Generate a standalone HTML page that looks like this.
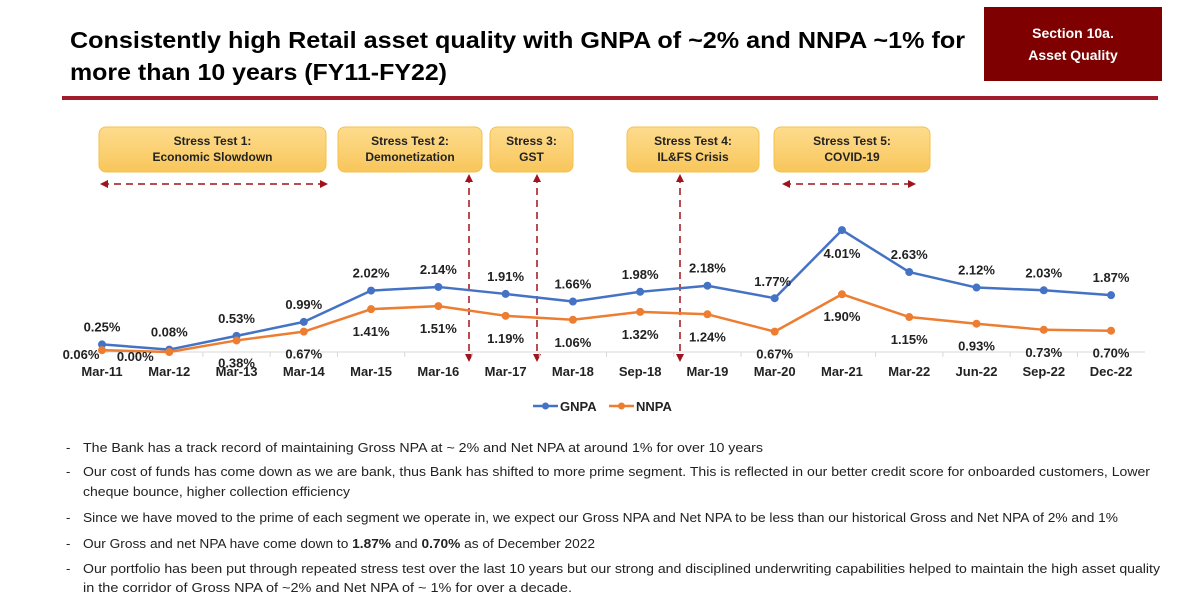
<!DOCTYPE html>
<html><head><meta charset="utf-8"><style>
html,body{margin:0;padding:0;background:#fff;}
svg{display:block;font-family:"Liberation Sans",sans-serif;}
</style></head><body>
<svg id="s" width="1200" height="613" viewBox="0 0 1200 613" xmlns="http://www.w3.org/2000/svg">
<defs>
<linearGradient id="box" x1="0" y1="0" x2="0" y2="1"><stop offset="0" stop-color="#fddc8e"/><stop offset="1" stop-color="#f8c65a"/></linearGradient>
<marker id="ah" markerWidth="8" markerHeight="8" refX="6" refY="4" orient="auto-start-reverse" markerUnits="userSpaceOnUse"><path d="M0,0 L8,4 L0,8 z" fill="#a1121c"/></marker>
</defs>
<text x="70" y="48" font-size="23" font-weight="bold" fill="#000" textLength="895" lengthAdjust="spacingAndGlyphs">Consistently high Retail asset quality with GNPA of ~2% and NNPA ~1% for</text>
<text x="70" y="80" font-size="23" font-weight="bold" fill="#000" textLength="377" lengthAdjust="spacingAndGlyphs">more than 10 years (FY11-FY22)</text>
<rect x="62" y="96" width="1096" height="4" fill="#a31c2b"/>
<rect x="984" y="7" width="178" height="74" fill="#7f0000"/>
<text x="1073" y="38" font-size="14" font-weight="bold" fill="#fff" text-anchor="middle">Section 10a.</text>
<text x="1073" y="60" font-size="14" font-weight="bold" fill="#fff" text-anchor="middle">Asset Quality</text>
<g id="chart"></g>
<g font-size="13" fill="#222">
<text x="66" y="452">-</text><text x="83" y="452" textLength="680" lengthAdjust="spacingAndGlyphs">The Bank has a track record of maintaining Gross NPA at ~ 2% and Net NPA at around 1% for over 10 years</text>
<text x="66" y="476">-</text><text x="83" y="476" textLength="1067" lengthAdjust="spacingAndGlyphs">Our cost of funds has come down as we are bank, thus Bank has shifted to more prime segment. This is reflected in our better credit score for onboarded customers, Lower</text>
<text x="83" y="496" textLength="267" lengthAdjust="spacingAndGlyphs">cheque bounce, higher collection efficiency</text>
<text x="66" y="522">-</text><text x="83" y="522" textLength="1035" lengthAdjust="spacingAndGlyphs">Since we have moved to the prime of each segment we operate in, we expect our Gross NPA and Net NPA to be less than our historical Gross and Net NPA of 2% and 1%</text>
<text x="66" y="548">-</text><text x="83" y="548" textLength="512" lengthAdjust="spacingAndGlyphs">Our Gross and net NPA have come down to <tspan font-weight="bold">1.87%</tspan> and <tspan font-weight="bold">0.70%</tspan> as of December 2022</text>
<text x="66" y="573">-</text><text x="83" y="573" textLength="1077" lengthAdjust="spacingAndGlyphs">Our portfolio has been put through repeated stress test over the last 10 years but our strong and disciplined underwriting capabilities helped to maintain the high asset quality</text>
<text x="83" y="592" textLength="489" lengthAdjust="spacingAndGlyphs">in the corridor of Gross NPA of ~2% and Net NPA of ~ 1% for over a decade.</text>
</g>
</svg>
<script>
const categories=["Mar-11","Mar-12","Mar-13","Mar-14","Mar-15","Mar-16","Mar-17","Mar-18","Sep-18","Mar-19","Mar-20","Mar-21","Mar-22","Jun-22","Sep-22","Dec-22"];
const gnpa=[0.25,0.08,0.53,0.99,2.02,2.14,1.91,1.66,1.98,2.18,1.77,4.01,2.63,2.12,2.03,1.87];
const nnpa=[0.06,0.00,0.38,0.67,1.41,1.51,1.19,1.06,1.32,1.24,0.67,1.90,1.15,0.93,0.73,0.70];
const stressLabels=[["Stress Test 1:","Economic Slowdown"],["Stress Test 2:","Demonetization"],["Stress 3:","GST"],["Stress Test 4:","IL&FS Crisis"],["Stress Test 5:","COVID-19"]];

const NS="http://www.w3.org/2000/svg";
const g=document.getElementById('chart');
const X0=102,DX=67.27,Y0=352,PY=30.4;
const xs=i=>X0+i*DX, ys=v=>Y0-v*PY;
function mk(t,a,p){const e=document.createElementNS(NS,t);for(const k in a)e.setAttribute(k,a[k]);(p||g).appendChild(e);return e;}

const boxes=[[99,227],[338,144],[490,83],[627,132],[774,156]];
boxes.forEach((b,i)=>{
  const r=mk('rect',{x:b[0],y:127,width:b[1],height:45,rx:7,fill:'url(#box)',stroke:'#f5c04a','stroke-width':1});
  
  
  stressLabels[i].forEach((s,j)=>{
    const t=mk('text',{x:b[0]+b[1]/2,y:145+j*16,'font-size':12,'font-weight':'bold','text-anchor':'middle',fill:'#222'});
    t.textContent=s;
    
    
  });
});
const arrowDefs=[[102,184,326,184],[784,184,914,184],[469,176,469,360],[537,176,537,360],[680,176,680,360]];
arrowDefs.forEach((a,i)=>{
  const l=mk('line',{x1:a[0],y1:a[1],x2:a[2],y2:a[3],stroke:'#a1121c','stroke-width':1.5,'stroke-dasharray':'7,5','marker-start':'url(#ah)','marker-end':'url(#ah)'});
  
  
});
const ax=mk('line',{x1:68,y1:Y0,x2:1145,y2:Y0,stroke:'#d9d9d9','stroke-width':1});


categories.forEach((c,i)=>{
  mk('line',{x1:xs(i)-DX/2,y1:Y0,x2:xs(i)-DX/2,y2:Y0+5,stroke:'#d9d9d9'});
  const t=mk('text',{x:xs(i),y:Y0+24,'font-size':13,'font-weight':'bold','text-anchor':'middle',fill:'#222'});
  t.textContent=c;
  
  
});
function series(vals,color,name,labelPos){
  const pts=vals.map((v,i)=>xs(i)+','+ys(v)).join(' ');
  const pl=mk('polyline',{points:pts,fill:'none',stroke:color,'stroke-width':2.5,'stroke-linejoin':'round'});
  
  
  vals.forEach((v,i)=>{
    const c=mk('circle',{cx:xs(i),cy:ys(v),r:4,fill:color});
    
    
    const o=labelPos(i,v);
    const t=mk('text',{x:xs(i)+o[0],y:ys(v)+o[1],'font-size':13,'font-weight':'bold','text-anchor':'middle',fill:'#222'});
    t.textContent=v.toFixed(2)+'%';
    
    
  });
}
const gMax=Math.max(...gnpa);
series(gnpa,'#4472c4','gnpa',(i,v)=>v===gMax?[0,28]:(i===10?[-2,-12]:[0,-13]));
series(nnpa,'#ed7d31','nnpa',(i,v)=>i===0?[-21,9]:(i===1?[-34,9]:[0,27]));
[['GNPA','#4472c4',533],['NNPA','#ed7d31',609]].forEach(L=>{
  const l=mk('line',{x1:L[2],y1:406,x2:L[2]+25,y2:406,stroke:L[1],'stroke-width':2.5});
  
  
  mk('circle',{cx:L[2]+12.5,cy:406,r:3.5,fill:L[1]});
  const t=mk('text',{x:L[2]+27,y:411,'font-size':13,'font-weight':'bold',fill:'#222'});
  t.textContent=L[0];
  
  
});
</script>
</body></html>
